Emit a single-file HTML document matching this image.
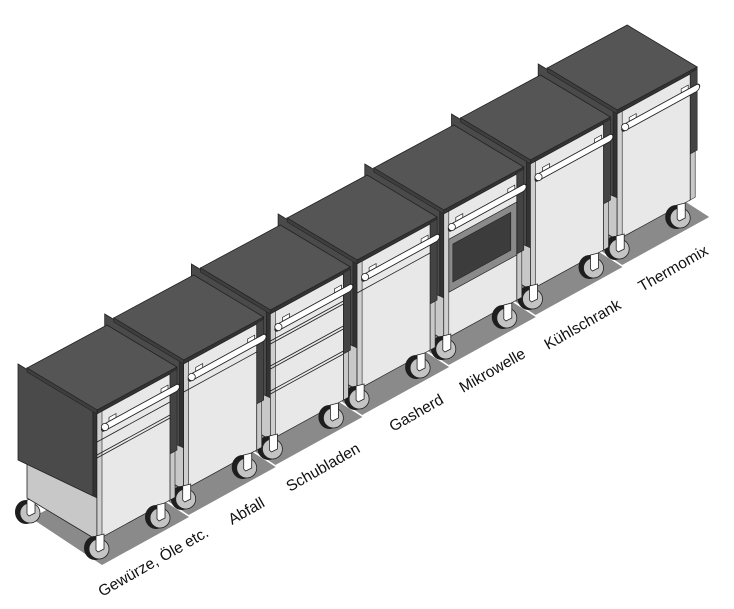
<!DOCTYPE html>
<html><head><meta charset="utf-8"><style>
html,body{margin:0;padding:0;background:#fff;}
svg{display:block;}
text{font-family:"Liberation Sans","DejaVu Sans",sans-serif;font-size:15.5px;fill:#111;}
</style></head><body>
<svg width="734" height="609" viewBox="0 0 734 609" xmlns="http://www.w3.org/2000/svg">
<defs>
<g id="wheel">
  <ellipse cx="-2" cy="0" rx="11" ry="12" fill="#1e1e1e"/>
  <circle cx="2" cy="1" r="10" fill="#c4c4c4" stroke="#222" stroke-width="0.8"/>
  <polygon points="-1,-12 7,-14 7,1 1,4 -1,2" fill="#fff" stroke="#222" stroke-width="0.8"/>
</g>
<g id="base">
  <polygon points="-66,108 5,155 92,107 22,62" fill="#8a8a8a"/>
  <use href="#wheel" x="10" y="60"/>
  <use href="#wheel" x="-69" y="102"/>
  <polygon points="0,0 -70,-42 -70,88 0,130" fill="#c8c8c8" stroke="#222" stroke-width="0.8"/>
  <polygon points="-4,-1 -79,-46 -79,50 -4,86" fill="#4a4a4a" stroke="#222" stroke-width="0.8"/>
  <polygon points="-4,-1 0,1 0,88 -4,86" fill="#333" stroke="#222" stroke-width="0.6"/>
  <polygon points="0,0 80,-43 10,-85 -70,-42" fill="#555" stroke="#222" stroke-width="0.8"/>
  <polygon points="-70,-42 0,0 0,4 -70,-38" fill="#3e3e3e" stroke="#222" stroke-width="0.6"/>
  <polygon points="0,0 80,-43 80,-39 0,4" fill="#333" stroke="#222" stroke-width="0.6"/>
  <g transform="matrix(1,-0.548,0,1,0,0)">
    <rect x="72" y="3" width="8" height="81" fill="#444" stroke="#222" stroke-width="0.6"/>
    <rect x="72" y="84" width="6" height="46" fill="#c8c8c8" stroke="#222" stroke-width="0.6"/>
    <rect x="0" y="4" width="73" height="126" fill="#e8e8e8" stroke="#222" stroke-width="0.8"/>
    <rect x="0" y="4" width="5" height="126" fill="#cfcfcf" stroke="#222" stroke-width="0.6"/>
  </g>
</g>
<g id="handle">
  <g transform="matrix(1,-0.548,0,1,0,0)">
    <rect x="12" y="14" width="7" height="4" fill="#fff" stroke="#222" stroke-width="0.7"/>
    <rect x="64" y="14" width="7" height="4" fill="#fff" stroke="#222" stroke-width="0.7"/>
    <line x1="8" y1="21.5" x2="79" y2="21.5" stroke="#222" stroke-width="8" stroke-linecap="round"/>
    <line x1="8" y1="21.5" x2="79" y2="21.5" stroke="#fff" stroke-width="6" stroke-linecap="round"/>
  </g>
  <circle cx="8" cy="17" r="3.6" fill="#fff" stroke="#222" stroke-width="0.8"/>
</g>
<g id="fw">
  <use href="#wheel" x="61" y="107"/>
  <use href="#wheel" x="0" y="138"/>
</g>
</defs>

<g transform="translate(617.2,110)">
  <use href="#base"/><use href="#handle"/><use href="#fw"/>
</g>
<g transform="translate(530.5,160)">
  <use href="#base"/><use href="#handle"/><use href="#fw"/>
</g>
<g transform="translate(443.8,210)">
  <use href="#base"/>
  <g transform="matrix(1,-0.548,0,1,0,0)">
    <rect x="5" y="32" width="68" height="53" fill="#8a8a8a" stroke="#222" stroke-width="0.8"/>
    <rect x="9" y="39" width="58" height="38" fill="#3c3c3c" stroke="#222" stroke-width="0.6"/>
  </g>
  <use href="#handle"/><use href="#fw"/>
</g>
<g transform="translate(357.1,260)">
  <use href="#base"/>
  <g transform="matrix(1,-0.548,0,1,0,0)" stroke="#222" stroke-width="0.9">
    <line x1="0" y1="33" x2="73" y2="33"/>
  </g>
  <use href="#handle"/><use href="#fw"/>
</g>
<g transform="translate(270.4,310)">
  <use href="#base"/>
  <g transform="matrix(1,-0.548,0,1,0,0)" stroke="#222" stroke-width="0.9">
    <line x1="0" y1="31" x2="73" y2="31"/><line x1="0" y1="34" x2="73" y2="34"/>
    <line x1="0" y1="56" x2="73" y2="56"/><line x1="0" y1="59" x2="73" y2="59"/>
    <line x1="0" y1="81" x2="73" y2="81"/><line x1="0" y1="84" x2="73" y2="84"/>
  </g>
  <use href="#handle"/><use href="#fw"/>
</g>
<g transform="translate(183.7,360)">
  <use href="#base"/>
  <g transform="matrix(1,-0.548,0,1,0,0)" stroke="#222" stroke-width="0.9">
    <line x1="0" y1="32" x2="73" y2="32"/>
  </g>
  <use href="#handle"/><use href="#fw"/>
</g>
<g transform="translate(97,410)">
  <use href="#base"/>
  <g transform="matrix(1,-0.548,0,1,0,0)" stroke="#222" stroke-width="0.9">
    <line x1="0" y1="32" x2="73" y2="32"/>
    <line x1="0" y1="45" x2="73" y2="45"/><line x1="0" y1="48" x2="73" y2="48"/>
  </g>
  <use href="#handle"/><use href="#fw"/>
</g>

<text transform="translate(102,597) rotate(-29.7)">Gewürze, Öle etc.</text>
<text transform="translate(232,525) rotate(-29.7)">Abfall</text>
<text transform="translate(290,492) rotate(-29.7)">Schubladen</text>
<text transform="translate(393,432) rotate(-29.7)">Gasherd</text>
<text transform="translate(463,393) rotate(-29.7)">Mikrowelle</text>
<text transform="translate(548,350) rotate(-29.7)">Kühlschrank</text>
<text transform="translate(642,292) rotate(-29.7)">Thermomix</text>
</svg>
</body></html>
